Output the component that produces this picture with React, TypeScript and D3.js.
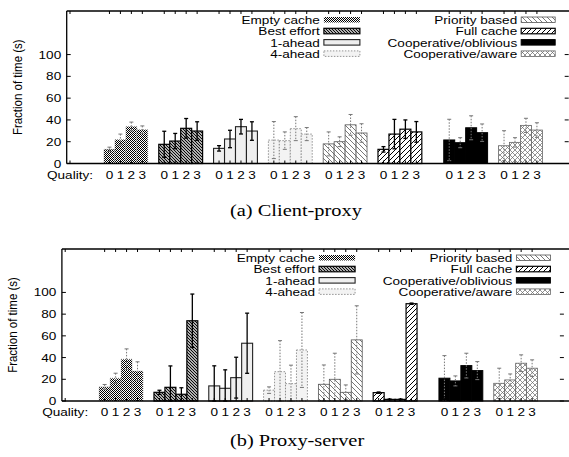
import React from 'react'
import * as d3 from 'd3'

// series and values
const series = ['Empty cache', 'Best effort', '1-ahead', '4-ahead',
  'Priority based', 'Full cache', 'Cooperative/oblivious', 'Cooperative/aware']
const qualities = ['0', '1', '2', '3']
const yTicks = [0, 20, 40, 60, 80, 100]

const clientMean = [
  [13, 22, 34, 31], [17.6, 20.6, 32.3, 29.8], [13.9, 22.5, 33.8, 29.8], [21.5, 21, 32, 27],
  [18, 20, 35.5, 28], [13, 27, 31.5, 29], [21.6, 19.1, 32.8, 28.3], [16.3, 19.4, 35, 30.7]
]
const clientErr = [
  [2, 5, 4, 3.5], [12, 7, 9, 8.5], [2.5, 8, 6.7, 8.5], [17, 8, 11, 6],
  [11, 4.5, 9.5, 8.5], [2.5, 13.5, 8.5, 9.5], [19, 4.6, 11, 8], [13.8, 4.3, 6.5, 6.7]
]
const serverMean = [
  [13, 21, 38.5, 27.5], [8, 12.6, 6.2, 73.9], [13.9, 11.7, 21.5, 53.2], [10, 27, 16, 47],
  [15.4, 20, 8, 56.3], [7.7, 1.5, 1.5, 89.6], [21, 18.5, 32.6, 28], [16.3, 19.4, 34.8, 30.2]
]
const serverErr = [
  [2.2, 4.6, 9.5, 8.6], [1.9, 19.7, 6, 24.6], [18.5, 17, 18.8, 27.7], [3, 28.6, 17, 34.5],
  [17.8, 24, 6.8, 31.4], [0.6, 0.3, 0.3, 0.6], [20.8, 4.6, 11.4, 8.3], [13.9, 5.5, 7.7, 7.7]
]

const styles = [
  { fill: 'url(#pEmpty)', stroke: '#999', sw: 0.7, dash: '1,1', err: 'dot' },
  { fill: 'url(#pBest)', stroke: '#000', sw: 1.2, dash: null, err: 'solid' },
  { fill: '#efefef', stroke: '#222', sw: 1.1, dash: null, err: 'solid' },
  { fill: '#f3f3f3', stroke: '#888', sw: 0.9, dash: '1.5,1.5', err: 'dot' },
  { fill: 'url(#pPrio)', stroke: '#555', sw: 0.8, dash: null, err: 'dot' },
  { fill: 'url(#pFull)', stroke: '#000', sw: 1.2, dash: null, err: 'solid' },
  { fill: '#000', stroke: '#000', sw: 1, dash: null, err: 'dot' },
  { fill: 'url(#pAware)', stroke: '#666', sw: 0.8, dash: null, err: 'dot' }
]

const FONT = 'Liberation Sans, Arial, Helvetica, sans-serif'
const FS = 11.5
const SX = 1.18

function T({ x, y, anchor = 'start', children }) {
  return (
    <text transform={`translate(${x},${y}) scale(${SX},1)`} textAnchor={anchor}
      fontFamily={FONT} fontSize={FS} fill="#000">{children}</text>
  )
}

function slotOf(g, q) {
  return g * 5 + (g >= 6 ? 1 : 0) + q
}

function Panel({ dx, top, base, mean, err, caption, capY }) {
  const x = d3.scaleLinear().domain([-3.4, 42.4]).range([66.7 + dx, 568.7 + dx])
  const y = d3.scaleLinear().domain([0, 140]).range([base, top])
  const bw = x(1) - x(0)
  const left = x(-3.4)
  const right = x(42.4)
  const tickXs = [x(-3.1)]
  series.forEach((s, g) => qualities.forEach((q, i) => tickXs.push(x(slotOf(g, i) + 0.5))))

  const legendRows = [0, 1, 2, 3]
  const col1End = x(19.7)
  const col2End = x(37.7)

  return (
    <g>
      {/* bars */}
      {series.map((s, g) => mean[g].map((v, i) => {
        const st = styles[g]
        return (
          <rect key={s + i} x={x(slotOf(g, i))} y={y(v)} width={bw} height={y(0) - y(v)}
            fill={st.fill} stroke={st.stroke} strokeWidth={st.sw}
            strokeDasharray={st.dash || undefined} />
        )
      }))}
      {/* error bars */}
      {series.map((s, g) => mean[g].map((v, i) => {
        const st = styles[g]
        const cx = x(slotOf(g, i) + 0.5)
        const hi = y(v + err[g][i])
        const lo = y(Math.max(0, v - err[g][i]))
        const solid = st.err === 'solid'
        const col = solid ? '#000' : '#777'
        const w = solid ? 1.3 : 1
        return (
          <g key={'e' + s + i} stroke={col} strokeWidth={w}>
            <line x1={cx} x2={cx} y1={hi} y2={lo} strokeDasharray={solid ? undefined : '1.5,1.5'} />
            <line x1={cx - 2} x2={cx + 2} y1={hi} y2={hi} />
            <line x1={cx - 2} x2={cx + 2} y1={lo} y2={lo} />
          </g>
        )
      }))}
      {/* frame */}
      <g stroke="#000" strokeWidth={1.3} fill="none">
        <line x1={left} x2={569} y1={top} y2={top} />
        <line x1={left} x2={569} y1={base} y2={base} />
        <line x1={left} x2={left} y1={top} y2={base} />
      </g>
      <g stroke="#000" strokeWidth={1}>
        {yTicks.map(t => (
          <g key={'yt' + t}>
            <line x1={left} x2={left + 4} y1={y(t)} y2={y(t)} />
            <line x1={right - 4} x2={right} y1={y(t)} y2={y(t)} />
          </g>
        ))}
        {tickXs.map((tx, i) => (
          <g key={'xt' + i}>
            <line x1={tx} x2={tx} y1={top} y2={top + 3} />
            <line x1={tx} x2={tx} y1={base} y2={base - 3} />
          </g>
        ))}
      </g>
      {yTicks.map(t => (
        <T key={'yl' + t} x={left - 5.5} y={y(t) + 4} anchor="end">{t}</T>
      ))}
      <text transform={`translate(${left - 44.5},${(top + base) / 2}) scale(${SX},1) rotate(-90)`}
        textAnchor="middle" fontFamily={FONT} fontSize={FS}>Fraction of time (s)</text>
      <T x={x(-3.1)} y={base + 15} anchor="middle">Quality:</T>
      {series.map((s, g) => qualities.map((q, i) => (
        <T key={'q' + s + i} x={x(slotOf(g, i) + 0.5)} y={base + 15} anchor="middle">{q}</T>
      )))}
      {/* legend */}
      {legendRows.map(r => [0, 1].map(c => {
        const g = c * 4 + r
        const st = styles[g]
        const end = c === 0 ? col1End : col2End
        const by = top + 13 + r * 11.3
        const bx = end + 4
        const bwid = c === 0 ? 36 : 34
        return (
          <g key={'lg' + g}>
            <T x={end} y={by} anchor="end">{series[g]}</T>
            <rect x={bx} y={by - 7} width={bwid} height={5.5} fill={st.fill}
              stroke={g === 0 ? 'none' : st.stroke} strokeWidth={st.sw}
              strokeDasharray={st.dash || undefined} />
          </g>
        )
      }))}
      <text transform={`translate(230,${capY}) scale(1.2,1)`} fontFamily="Liberation Serif, Times New Roman, serif"
        fontSize={17} fill="#000">{caption}</text>
    </g>
  )
}

export default function App() {
  return (
    <div style={{ position: 'absolute', left: 0, top: 0 }}>
      <svg width={569} height={457} style={{ display: 'block', background: '#fff' }}>
        <defs>
          <pattern id="pEmpty" patternUnits="userSpaceOnUse" width={2} height={2}>
            <rect width={2} height={2} fill="#fff" />
            <rect x={0} y={0} width={1} height={1} fill="#000" />
            <rect x={1} y={1} width={1} height={1} fill="#000" />
          </pattern>
          <pattern id="pBest" patternUnits="userSpaceOnUse" width={3} height={3}>
            <rect width={3} height={3} fill="#fff" />
            <path d="M0,0L3,3M-1,2L1,4M2,-1L4,1" stroke="#000" strokeWidth={1.2} />
          </pattern>
          <pattern id="pPrio" patternUnits="userSpaceOnUse" width={5} height={5}>
            <rect width={5} height={5} fill="#fff" />
            <path d="M0,0L5,5M-1,4L1,6M4,-1L6,1" stroke="#555" strokeWidth={0.8} />
          </pattern>
          <pattern id="pFull" patternUnits="userSpaceOnUse" width={5} height={5}>
            <rect width={5} height={5} fill="#fff" />
            <path d="M0,5L5,0M-1,1L1,-1M4,6L6,4" stroke="#000" strokeWidth={1} />
          </pattern>
          <pattern id="pAware" patternUnits="userSpaceOnUse" width={5} height={5}>
            <rect width={5} height={5} fill="#fff" />
            <path d="M0,0L5,5M-1,4L1,6M4,-1L6,1M0,5L5,0M-1,1L1,-1M4,6L6,4" stroke="#666" strokeWidth={0.7} />
          </pattern>
        </defs>
        <Panel dx={0} top={11} base={163.5} mean={clientMean} err={clientErr}
          caption="(a)  Client-proxy" capY={216} />
        <Panel dx={-4.8} top={249} base={401} mean={serverMean} err={serverErr}
          caption="(b)  Proxy-server" capY={446} />
      </svg>
    </div>
  )
}
